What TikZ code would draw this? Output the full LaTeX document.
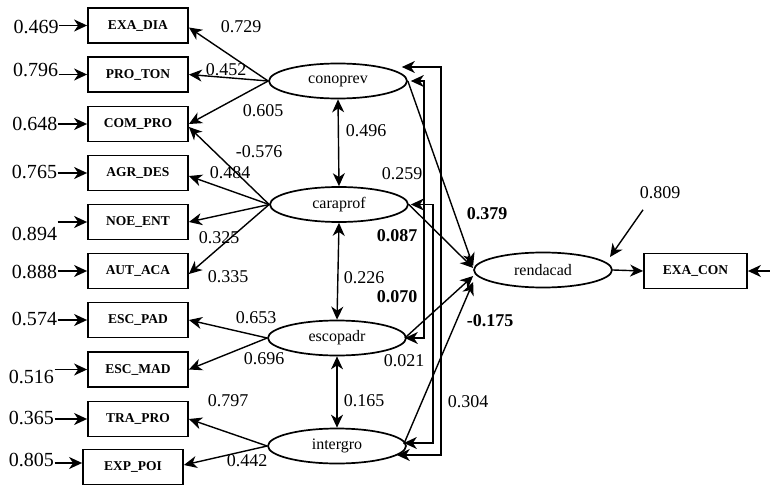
\documentclass[tikz,border=0pt]{standalone}
\usepackage{fontspec}
\setmainfont{Liberation Serif}
\usetikzlibrary{shapes.geometric,arrows.meta}

\begin{document}
\begin{tikzpicture}[x=1pt,y=-1pt,
  line width=1.4pt,
  tip/.style={-{Stealth[length=13pt,width=12pt,inset=4pt]}},
  dtip/.style={{Stealth[length=13pt,width=12pt,inset=4pt]}-{Stealth[length=13pt,width=12pt,inset=4pt]}},
  obs/.style={draw, line width=1.8pt, minimum width=100pt, minimum height=35pt,
    inner sep=0pt, font=\fontsize{13.5}{15}\selectfont\bfseries},
  lat/.style={draw, ellipse, line width=1.7pt, minimum width=138pt, minimum height=35pt,
    inner sep=0pt, font=\fontsize{16}{18}\selectfont},
  errlab/.style={inner sep=0pt, font=\fontsize{20}{22}\selectfont},
  coef/.style={inner sep=0pt, font=\fontsize{18}{20}\selectfont},
  bcoef/.style={inner sep=0pt, font=\fontsize{18}{20}\selectfont\bfseries},
]
\useasboundingbox (0,0) rectangle (770,484);

% observed indicators
\node[obs] (EXA_DIA) at (138,25.5) {EXA\_DIA};
\node[obs] (PRO_TON) at (138,74.5) {PRO\_TON};
\node[obs] (COM_PRO) at (138,124) {COM\_PRO};
\node[obs] (AGR_DES) at (138,173) {AGR\_DES};
\node[obs] (NOE_ENT) at (138,222) {NOE\_ENT};
\node[obs] (AUT_ACA) at (138,271) {AUT\_ACA};
\node[obs] (ESC_PAD) at (138,320) {ESC\_PAD};
\node[obs] (ESC_MAD) at (138,369.5) {ESC\_MAD};
\node[obs] (TRA_PRO) at (138,419) {TRA\_PRO};
\node[obs] (EXP_POI) at (133,467) {EXP\_POI};
\node[obs, minimum width=103pt] (EXA_CON) at (695.5,271) {EXA\_CON};

% latent variables
\node[lat] (conoprev) at (338,81) {conoprev};
\node[lat] (caraprof) at (339,204.5) {caraprof};
\node[lat] (escopadr) at (337,338) {escopadr};
\node[lat] (intergro) at (337,446) {intergro};
\node[lat] (rendacad) at (543,270) {rendacad};

% error terms of the indicators
\node[errlab] (e1) at (36,27) {0.469};
\node[errlab] (e2) at (35.5,69.5) {0.796};
\node[errlab] (e3) at (35,124) {0.648};
\node[errlab] (e4) at (34.5,172) {0.765};
\node[errlab] (e5) at (34.5,234) {0.894};
\node[errlab] (e6) at (34.5,272) {0.888};
\node[errlab] (e7) at (34.5,318.5) {0.574};
\node[errlab] (e8) at (31.5,377) {0.516};
\node[errlab] (e9) at (31.5,418) {0.365};
\node[errlab] (e10) at (31.5,460) {0.805};
\draw[tip] (e1.east |- EXA_DIA.west) -- (EXA_DIA.west);
\draw[tip] (e2.east |- PRO_TON.west) -- (PRO_TON.west);
\draw[tip] (e3.east |- COM_PRO.west) -- (COM_PRO.west);
\draw[tip] (e4.east |- AGR_DES.west) -- (AGR_DES.west);
\draw[tip] (e5.east |- NOE_ENT.west) -- (NOE_ENT.west);
\draw[tip] (e6.east |- AUT_ACA.west) -- (AUT_ACA.west);
\draw[tip] (e7.east |- ESC_PAD.west) -- (ESC_PAD.west);
\draw[tip] (e8.east |- ESC_MAD.west) -- (ESC_MAD.west);
\draw[tip] (e9.east |- TRA_PRO.west) -- (TRA_PRO.west);
\draw[tip] ([yshift=4pt]e10.east |- EXP_POI.west) -- ([yshift=4pt]EXP_POI.west);

% loadings
\draw[tip] (conoprev.west) -- ([yshift=-2pt]EXA_DIA.east);
\draw[tip] (conoprev.west) -- (PRO_TON.east);
\draw[tip] (conoprev.west) -- (COM_PRO.east);
\draw[tip] (caraprof.west) -- ([yshift=-3pt]COM_PRO.east);
\draw[tip] (caraprof.west) -- ([yshift=-3pt]AGR_DES.east);
\draw[tip] (caraprof.west) -- (NOE_ENT.east);
\draw[tip] (caraprof.west) -- ([yshift=-3pt]AUT_ACA.east);
\draw[tip] (escopadr.west) -- (ESC_PAD.east);
\draw[tip] (escopadr.west) -- (ESC_MAD.east);
\draw[tip] (intergro.west) -- (TRA_PRO.east);
\draw[tip] (intergro.west) -- ([yshift=2pt]EXP_POI.east);

\node[coef] at (241,27) {0.729};
\node[coef] at (226,70) {0.452};
\node[coef] at (263,111) {0.605};
\node[coef] at (259,152) {-0.576};
\node[coef] at (230,173) {0.484};
\node[coef] at (219,238) {0.325};
\node[coef] at (228,277) {0.335};
\node[coef] at (256,318) {0.653};
\node[coef] at (264,359) {0.696};
\node[coef] at (228,401) {0.797};
\node[coef] at (247,461) {0.442};

% correlations between adjacent factors
\draw[dtip] (conoprev.south) -- (caraprof.north);
\draw[dtip] (caraprof.south) -- (escopadr.north);
\draw[dtip] (escopadr.south) -- (intergro.north);
\node[coef] at (366,131) {0.496};
\node[coef] at (364,278) {0.226};
\node[coef] at (364,401) {0.165};

% bracket correlations on the right
\draw[dtip] ([xshift=3pt]conoprev.east) -- ++(13,0) |- ([xshift=-2pt]escopadr.east);
\draw[dtip] ([xshift=2pt]caraprof.east) -- ++(22,0) |- ([shift={(-3pt,3pt)}]intergro.east);
\draw[dtip] ([shift={(-6pt,14pt)}]conoprev.east) -- ++(39,0) |- ([shift={(-10pt,-9pt)}]intergro.east);
\node[coef] at (402,174) {0.259};
\node[coef] at (404,361) {0.021};
\node[coef] at (468,402) {0.304};

% structural paths
\draw[tip] (conoprev.east) -- ([yshift=4pt]rendacad.west);
\draw[tip] (caraprof.east) -- ([yshift=2pt]rendacad.west);
\draw[tip] ([xshift=-2pt]escopadr.east) -- ([yshift=-6pt]rendacad.west);
\draw[tip] ([shift={(-3pt,2pt)}]intergro.east) -- ([yshift=-12pt]rendacad.west);
\node[bcoef] at (487,214) {0.379};
\node[bcoef] at (397,236) {0.087};
\node[bcoef] at (397,297) {0.070};
\node[bcoef] at (490,321) {-0.175};

% outcome
\node[coef] (e11) at (660,193) {0.809};
\draw[tip] ([shift={(-17pt,-10pt)}]e11.south) -- ([shift={(67pt,13pt)}]rendacad.center);
\draw[tip] (rendacad.east) -- (EXA_CON.west);
\coordinate (e12) at (770,271);
\draw[tip] (e12) -- (EXA_CON.east);
\end{tikzpicture}
\end{document}
